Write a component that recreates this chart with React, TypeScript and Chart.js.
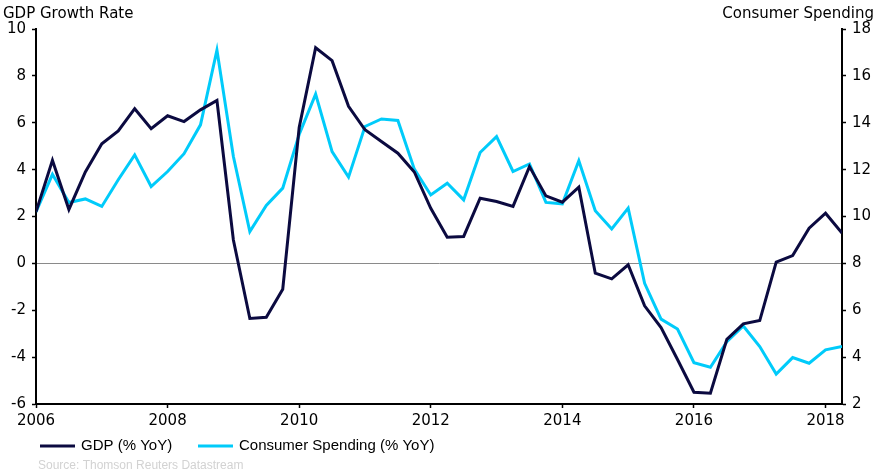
import React, { useEffect, useRef } from "react";
import { Chart, registerables } from "chart.js";

Chart.register(...registerables);

// Quarterly observations, 2006 Q1 through 2018 Q2
const startYear = 2006;
const endYear = 2018.25;
const yearTicks = [2006, 2008, 2010, 2012, 2014, 2016, 2018];

const gdpYoY = [
  2.2, 4.4, 2.3, 3.9, 5.1, 5.65, 6.6, 5.75, 6.3, 6.05, 6.55, 6.95,
  1.0, -2.35, -2.3, -1.1, 5.8, 9.2, 8.65, 6.7, 5.7, 5.2, 4.7, 3.9,
  2.35, 1.12, 1.15, 2.78, 2.64, 2.43, 4.13, 2.88, 2.61, 3.25, -0.42, -0.66,
  -0.06, -1.81, -2.74, -4.1, -5.5, -5.54, -3.24, -2.58, -2.44, 0.05, 0.33, 1.5,
  2.14, 1.29,
];

const consumerYoY = [
  10.2, 11.8, 10.6, 10.75, 10.43, 11.57, 12.63, 11.28, 11.92, 12.68, 13.91, 17.1,
  12.56, 9.36, 10.47, 11.21, 13.5, 15.22, 12.77, 11.68, 13.84, 14.16, 14.1, 12.02,
  10.92, 11.42, 10.71, 12.73, 13.41, 11.92, 12.24, 10.6, 10.54, 12.38, 10.25, 9.47,
  10.36, 7.15, 5.62, 5.2, 3.76, 3.57, 4.66, 5.33, 4.45, 3.28, 3.98, 3.74,
  4.31, 4.45,
];

const gdpLabel = "GDP (% YoY)";
const consumerLabel = "Consumer Spending (% YoY)";
const leftTitle = "GDP Growth Rate";
const rightTitle = "Consumer Spending";
const sourceNote = "Source: Thomson Reuters Datastream";

const NAVY = "#0b0a40";
const CYAN = "#00cbfa";
const AXIS_FONT = "'DejaVu Sans', Verdana, sans-serif";
const LEGEND_FONT = "'Liberation Sans', Arial, sans-serif";

const quarterPoints = (values: number[]) =>
  values.map((v, i) => ({ x: startYear + i * 0.25, y: v }));

// Titles above each axis, the legend row and the source line
const annotations = {
  id: "annotations",
  afterDraw(chart: Chart) {
    const ctx = chart.ctx;
    ctx.save();
    ctx.fillStyle = "#000";
    ctx.font = `15px ${AXIS_FONT}`;
    ctx.textBaseline = "alphabetic";
    ctx.textAlign = "left";
    ctx.fillText(leftTitle, 3, 18);
    ctx.textAlign = "right";
    ctx.fillText(rightTitle, 874, 18);

    const legendY = 446;
    const items = [
      { label: gdpLabel, color: NAVY, x0: 40, x1: 75, tx: 81 },
      { label: consumerLabel, color: CYAN, x0: 198, x1: 233, tx: 239 },
    ];
    ctx.font = `15px ${LEGEND_FONT}`;
    ctx.textAlign = "left";
    ctx.textBaseline = "middle";
    for (const it of items) {
      ctx.strokeStyle = it.color;
      ctx.lineWidth = 3;
      ctx.beginPath();
      ctx.moveTo(it.x0, legendY);
      ctx.lineTo(it.x1, legendY);
      ctx.stroke();
      ctx.fillStyle = "#000";
      ctx.fillText(it.label, it.tx, legendY);
    }

    ctx.font = `12px ${LEGEND_FONT}`;
    ctx.fillStyle = "#d2d2d2";
    ctx.fillText(sourceNote, 38, 466);
    ctx.restore();
  },
};

export default function App() {
  const canvasRef = useRef<HTMLCanvasElement | null>(null);

  useEffect(() => {
    if (!canvasRef.current) return;
    const chart = new Chart(canvasRef.current, {
      type: "line",
      data: {
        datasets: [
          {
            label: gdpLabel,
            data: quarterPoints(gdpYoY),
            borderColor: NAVY,
            borderWidth: 3,
            pointRadius: 0,
            tension: 0,
            yAxisID: "yGdp",
          },
          {
            label: consumerLabel,
            data: quarterPoints(consumerYoY),
            borderColor: CYAN,
            borderWidth: 3,
            pointRadius: 0,
            tension: 0,
            yAxisID: "yConsumer",
          },
        ],
      },
      options: {
        responsive: false,
        animation: false,
        devicePixelRatio: 1,
        layout: { padding: { top: 29, left: 0, right: 0, bottom: 0 } },
        plugins: {
          legend: { display: false },
          tooltip: { enabled: false },
        },
        scales: {
          x: {
            type: "linear",
            min: startYear,
            max: endYear,
            afterBuildTicks: (scale: any) => {
              scale.ticks = yearTicks.map((v) => ({ value: v }));
            },
            afterFit: (scale: any) => {
              scale.height = 70;
            },
            ticks: {
              color: "#000",
              font: { family: AXIS_FONT, size: 15 },
              padding: 4,
              maxRotation: 0,
              autoSkip: false,
              callback: (v: any) => String(v),
            },
            grid: {
              drawOnChartArea: false,
              tickColor: "#000",
              tickLength: 4,
              tickWidth: 1.5,
            },
            border: { color: "#000", width: 2 },
          },
          yGdp: {
            type: "linear",
            position: "left",
            min: -6,
            max: 10,
            afterFit: (scale: any) => {
              scale.width = 36;
            },
            ticks: {
              stepSize: 2,
              color: "#000",
              font: { family: AXIS_FONT, size: 15 },
              padding: 6,
              callback: (v: any) => String(v),
            },
            grid: {
              color: (c: any) => (c.tick && c.tick.value === 0 ? "#8a8a8a" : "rgba(0,0,0,0)"),
              lineWidth: 1,
              tickColor: "#000",
              tickLength: 4,
              tickWidth: 1.5,
            },
            border: { color: "#000", width: 2 },
          },
          yConsumer: {
            type: "linear",
            position: "right",
            min: 2,
            max: 18,
            afterFit: (scale: any) => {
              scale.width = 35;
            },
            ticks: {
              stepSize: 2,
              color: "#000",
              font: { family: AXIS_FONT, size: 15 },
              padding: 6,
              callback: (v: any) => String(v),
            },
            grid: {
              drawOnChartArea: false,
              tickColor: "#000",
              tickLength: 4,
              tickWidth: 1.5,
            },
            border: { color: "#000", width: 2 },
          },
        },
      },
      plugins: [annotations],
    });
    return () => chart.destroy();
  }, []);

  return (
    <div style={{ position: "absolute", left: 0, top: 0, width: 877, height: 474, background: "#fff" }}>
      <canvas ref={canvasRef} width={877} height={474} />
    </div>
  );
}
